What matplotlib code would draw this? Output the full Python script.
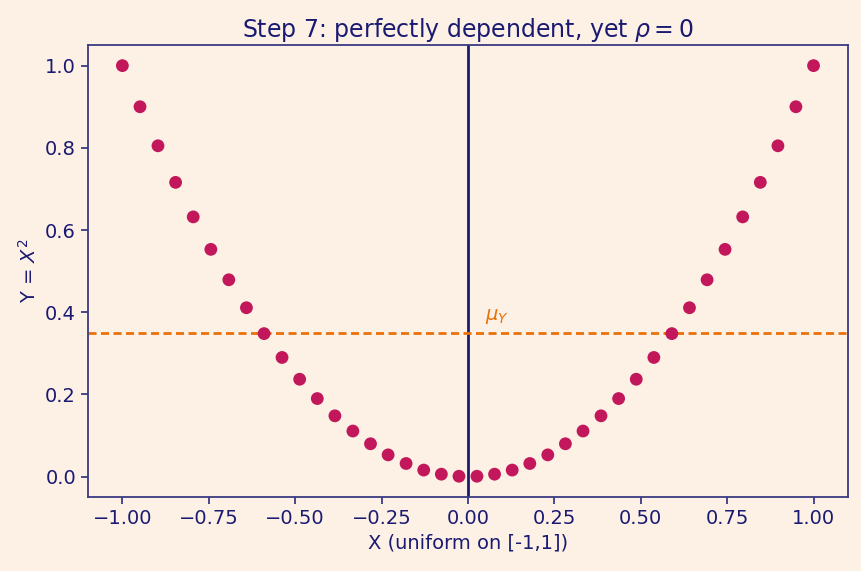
import matplotlib
matplotlib.use('Agg')
import matplotlib.pyplot as plt

# Data
x_left = [-1.000, -0.949, -0.897, -0.846, -0.795, -0.744, -0.692, -0.641, -0.590, -0.538,
          -0.487, -0.436, -0.385, -0.333, -0.282, -0.231, -0.179, -0.128, -0.077, -0.026]
y_left = [1.000, 0.900, 0.805, 0.716, 0.632, 0.553, 0.479, 0.411, 0.348, 0.290,
          0.237, 0.190, 0.148, 0.111, 0.080, 0.053, 0.032, 0.016, 0.006, 0.001]
x_right = [0.026, 0.077, 0.128, 0.179, 0.231, 0.282, 0.333, 0.385, 0.436, 0.487,
           0.538, 0.590, 0.641, 0.692, 0.744, 0.795, 0.846, 0.897, 0.949, 1.000]
y_right = [0.001, 0.006, 0.016, 0.032, 0.053, 0.080, 0.111, 0.148, 0.190, 0.237,
           0.290, 0.348, 0.411, 0.479, 0.553, 0.632, 0.716, 0.805, 0.900, 1.000]
mean_y = 0.350

bg = '#fdf1e6'
navy = '#1a1a72'
spine_col = '#3a3a82'
dot_col = '#c2185b'
orange = '#e8710a'

fig = plt.figure(figsize=(8.61, 5.71), dpi=100, facecolor=bg)
ax = fig.add_axes([0.102, 0.130, 0.883, 0.791], facecolor=bg)

ax.scatter(x_left + x_right, y_left + y_right, s=85, color=dot_col, edgecolors='none', zorder=3)
ax.axvline(0, color=navy, lw=2.0, zorder=2)
ax.axhline(mean_y, color=orange, lw=2.0, ls='--', dashes=(2.9, 1.6), zorder=2)
ax.text(0.05, mean_y + 0.03, r'$\mu_Y$', color=orange, fontsize=14)

ax.set_title(r'Step 7: perfectly dependent, yet $\rho = 0$', color=navy, fontsize=17, pad=6)
ax.set_xlabel('X (uniform on [-1,1])', color=navy, fontsize=14)
ax.set_ylabel(r'Y = $X^2$', color=navy, fontsize=14)

ax.tick_params(colors=spine_col, labelcolor=navy, labelsize=14, width=1.3, length=5)
for sp in ax.spines.values():
    sp.set_color(spine_col)
    sp.set_linewidth(1.3)

fig.savefig('out.png', dpi=100, facecolor=bg)
